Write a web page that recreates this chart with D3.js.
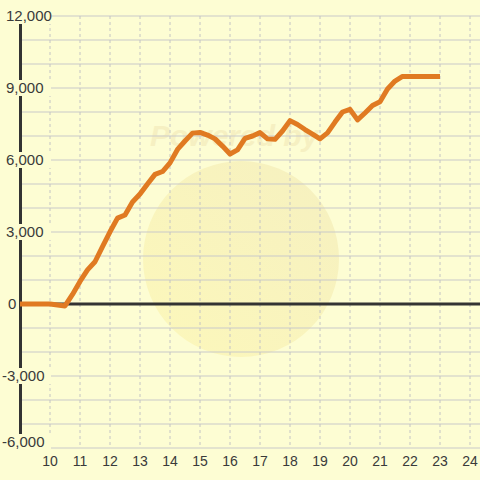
<!DOCTYPE html>
<html>
<head>
<meta charset="utf-8">
<script src="https://cdn.jsdelivr.net/npm/d3@7"></script>
<style>
  html, body { margin: 0; padding: 0; background: #fdfdd3; }
  svg { display: block; }
</style>
</head>
<body>
<script>
// ---- data ----
const hours = [9, 10, 10.5, 10.75, 11, 11.25, 11.5, 11.75, 12, 12.25, 12.5, 12.75,
  13, 13.25, 13.5, 13.75, 14, 14.25, 14.5, 14.75, 15, 15.25, 15.5, 15.75,
  16, 16.25, 16.5, 16.75, 17, 17.25, 17.5, 17.75, 18, 18.25, 18.5, 18.75,
  19, 19.25, 19.5, 19.75, 20, 20.25, 20.5, 20.75, 21, 21.25, 21.5, 21.75,
  22, 22.5, 23];
const values = [0, 0, -80, 400, 940, 1420, 1760, 2390, 3010, 3580, 3710, 4250,
  4580, 5000, 5400, 5520, 5880, 6440, 6790, 7120, 7150, 7040, 6880, 6580,
  6250, 6420, 6900, 7000, 7140, 6880, 6860, 7210, 7640, 7480, 7270, 7080,
  6880, 7130, 7580, 8000, 8110, 7670, 7960, 8270, 8430, 8960, 9290, 9480,
  9480, 9480, 9480];
const xTicks = [10, 11, 12, 13, 14, 15, 16, 17, 18, 19, 20, 21, 22, 23, 24];
const yLabelTicks = [-6000, -3000, 0, 3000, 6000, 9000, 12000];
const yGridTicks = d3.range(-6000, 12001, 1000);

const W = 480, H = 480;
const svg = d3.select("body").append("svg").attr("width", W).attr("height", H);

svg.append("rect").attr("width", W).attr("height", H).attr("fill", "#fdfdd3");

const x = d3.scaleLinear().domain([9, 24]).range([20, 470]);
const y = d3.scaleLinear().domain([-6000, 12000]).range([448, 16]);

// watermark
const defs = svg.append("defs");
const grad = defs.append("linearGradient").attr("id", "wm").attr("x1", "0").attr("y1", "1").attr("x2", "1").attr("y2", "0");
grad.append("stop").attr("offset", "0").attr("stop-color", "#fcf7b8");
grad.append("stop").attr("offset", "1").attr("stop-color", "#f5efbe");
svg.append("circle").attr("cx", 241).attr("cy", 259).attr("r", 98)
  .attr("fill", "url(#wm)").attr("opacity", 0.9);
svg.append("text").attr("x", 150).attr("y", 146)
  .attr("font-family", "Liberation Sans, Arial, sans-serif")
  .attr("font-size", 30).attr("font-weight", "bold").attr("font-style", "italic")
  .attr("fill", "#f6f0c2").text("Powered by");

// horizontal grid
svg.append("g").selectAll("line").data(yGridTicks.filter(d => d !== 0)).join("line")
  .attr("x1", 20).attr("x2", W)
  .attr("y1", d => y(d)).attr("y2", d => y(d))
  .attr("stroke", "#c9c9c9").attr("stroke-width", 1.2);

// vertical dashed grid
svg.append("g").selectAll("line").data(xTicks).join("line")
  .attr("x1", d => x(d)).attr("x2", d => x(d))
  .attr("y1", y(12000)).attr("y2", y(-6000))
  .attr("stroke", "#c4c4c4").attr("stroke-width", 1)
  .attr("stroke-dasharray", "3,3");

// y axis line
svg.append("line").attr("x1", 20.5).attr("x2", 20.5)
  .attr("y1", y(12000)).attr("y2", y(-6000))
  .attr("stroke", "#333").attr("stroke-width", 3);

// zero baseline
svg.append("line").attr("x1", 20).attr("x2", W)
  .attr("y1", y(0)).attr("y2", y(0))
  .attr("stroke", "#333").attr("stroke-width", 3);

// y labels with background
const fmt = v => d3.format(",")(v).replace("\u2212", "-");
const labelY = d => d === -6000 ? y(d) - 6 : y(d);
const yl = svg.append("g").selectAll("g").data(yLabelTicks).join("g");
yl.append("rect")
  .attr("x", 0).attr("width", d => d === 0 ? 18 : 51)
  .attr("y", d => labelY(d) - 8).attr("height", d => d === -6000 ? 22 : 16)
  .attr("fill", "#fdfdd3");
yl.append("text")
  .attr("x", d => d < 0 ? 2 : (d === 0 ? 8 : 6))
  .attr("y", d => labelY(d))
  .attr("dy", "0.35em")
  .attr("font-family", "Liberation Sans, Arial, sans-serif")
  .attr("font-size", 15)
  .attr("fill", "#3a3a3a")
  .text(d => fmt(d));

// x labels
svg.append("g").selectAll("text").data(xTicks).join("text")
  .attr("x", d => x(d)).attr("y", 461).attr("dy", "0.35em")
  .attr("text-anchor", "middle")
  .attr("font-family", "Liberation Sans, Arial, sans-serif")
  .attr("font-size", 14)
  .attr("fill", "#3a3a3a")
  .text(d => d);

// line
const pts = hours.map((h, i) => [h, values[i]]);
svg.append("path").datum(pts)
  .attr("fill", "none")
  .attr("stroke", "#e07a22")
  .attr("stroke-width", 5)
  .attr("stroke-linejoin", "round")
  .attr("d", d3.line().x(d => x(d[0])).y(d => y(d[1])));
</script>
</body>
</html>
